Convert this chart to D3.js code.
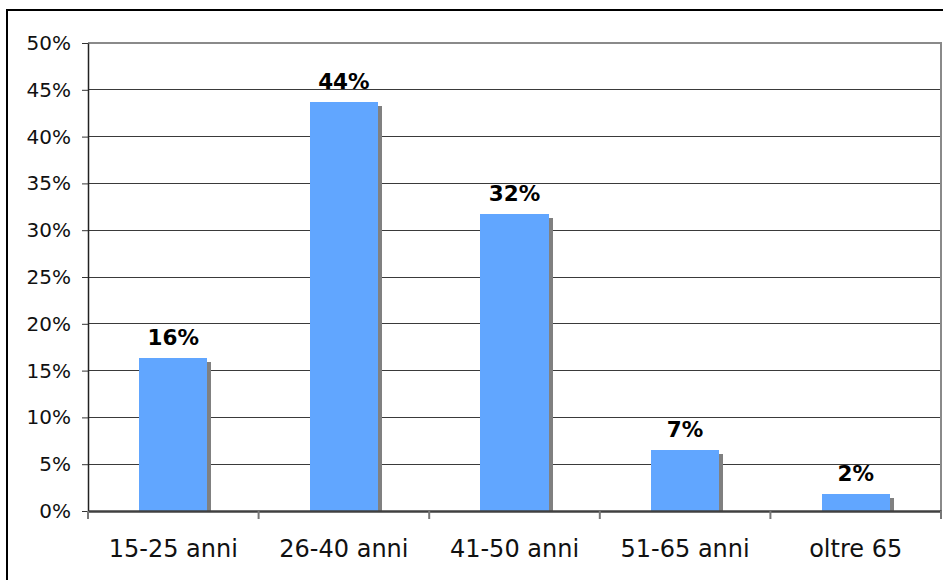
<!DOCTYPE html>
<html>
<head>
<meta charset="utf-8">
<script src="https://cdn.jsdelivr.net/npm/d3@7"></script>
<style>
  body { margin: 0; background: #fff; }
  svg { display: block; font-family: "DejaVu Sans", Verdana, sans-serif; }
</style>
</head>
<body>
<svg id="chart" width="943" height="580"></svg>
<script>
// eta' degli intervistati
const categories = ['15-25 anni', '26-40 anni', '41-50 anni', '51-65 anni', 'oltre 65'];
const values = [0.163, 0.437, 0.317, 0.065, 0.018];
const labels = ['16%', '44%', '32%', '7%', '2%'];
const yTicks = [0, 0.05, 0.10, 0.15, 0.20, 0.25, 0.30, 0.35, 0.40, 0.45, 0.50];

const svg = d3.select('#chart');

const plot = {left: 88, right: 941, top: 43, bottom: 511};
const shadow = 4;

// outer frame
svg.append('rect')
    .attr('x', 7)
    .attr('y', 10)
    .attr('width', 960)
    .attr('height', 600)
    .style('fill', 'none')
    .style('stroke', '#000')
    .style('stroke-width', 2);

let x = d3.scaleBand()
    .domain(categories)
    .range([plot.left, plot.right])
    .padding(0);

let y = d3.scaleLinear()
    .domain([0, 0.5])
    .range([plot.bottom, plot.top]);

// gridlines
svg.append('g')
    .selectAll('line')
    .data(yTicks.slice(1, -1))
    .enter()
    .append('line')
        .attr('x1', plot.left)
        .attr('x2', plot.right)
        .attr('y1', d => y(d))
        .attr('y2', d => y(d))
        .style('stroke', '#3a3a3a')
        .style('stroke-width', 1)
        .style('shape-rendering', 'crispEdges');

// plot border top + right (gray)
svg.append('path')
    .attr('d', `M${plot.left},${y(0.5)}H${plot.right}V${plot.bottom}`)
    .style('fill', 'none')
    .style('stroke', '#8a8a8a')
    .style('stroke-width', 2);

// bars: shadow first, then bar
let barW = x.bandwidth() * 0.4;
let bx = d => x(d) + (x.bandwidth() - barW) / 2;

svg.append('g')
    .selectAll('rect')
    .data(categories)
    .enter()
    .append('rect')
        .attr('x', d => bx(d) + shadow)
        .attr('y', (d, i) => y(values[i]) + shadow)
        .attr('width', barW)
        .attr('height', (d, i) => y(0) - y(values[i]) - shadow)
        .style('fill', '#808080')
        .style('shape-rendering', 'crispEdges');

svg.append('g')
    .selectAll('rect')
    .data(categories)
    .enter()
    .append('rect')
        .attr('x', bx)
        .attr('y', (d, i) => y(values[i]))
        .attr('width', barW)
        .attr('height', (d, i) => y(0) - y(values[i]))
        .style('fill', '#61a6ff')
        .style('shape-rendering', 'crispEdges');

// value labels
svg.append('g')
    .selectAll('text')
    .data(categories)
    .enter()
    .append('text')
        .attr('x', d => x(d) + x.bandwidth() / 2)
        .attr('y', (d, i) => y(values[i]) - 13)
        .attr('text-anchor', 'middle')
        .style('font-size', '21.5px')
        .style('font-weight', 'bold')
        .style('fill', '#000')
        .text((d, i) => labels[i]);

// y axis
let yAxis = svg.append('g')
    .attr('transform', `translate(${plot.left},0)`)
    .call(d3.axisLeft(y).tickValues(yTicks).tickFormat(d3.format('.0%')).tickSize(6).tickPadding(11).tickSizeOuter(0));

yAxis.select('.domain').style('stroke', '#222').style('stroke-width', 1.5);
yAxis.selectAll('.tick line').style('stroke', '#333');
yAxis.selectAll('.tick text')
    .style('font-size', '20px')
    .style('font-family', '"DejaVu Sans", Verdana, sans-serif')
    .style('fill', '#111');

// x axis
let xAxis = svg.append('g')
    .attr('transform', `translate(0,${plot.bottom})`)
    .call(d3.axisBottom(x).tickSize(0).tickPadding(29).tickSizeOuter(0));

xAxis.select('.domain').style('stroke', '#404040').style('stroke-width', 2.5);
xAxis.selectAll('.tick text')
    .style('font-size', '24px')
    .style('font-family', '"DejaVu Sans", Verdana, sans-serif')
    .style('fill', '#111');

// category separators below the axis
svg.append('g')
    .selectAll('line')
    .data(categories.concat(['end']))
    .enter()
    .append('line')
        .attr('x1', (d, i) => i < categories.length ? x(d) : plot.right)
        .attr('x2', (d, i) => i < categories.length ? x(d) : plot.right)
        .attr('y1', plot.bottom)
        .attr('y2', plot.bottom + 8)
        .style('stroke', '#777')
        .style('stroke-width', 2);
</script>
</body>
</html>
